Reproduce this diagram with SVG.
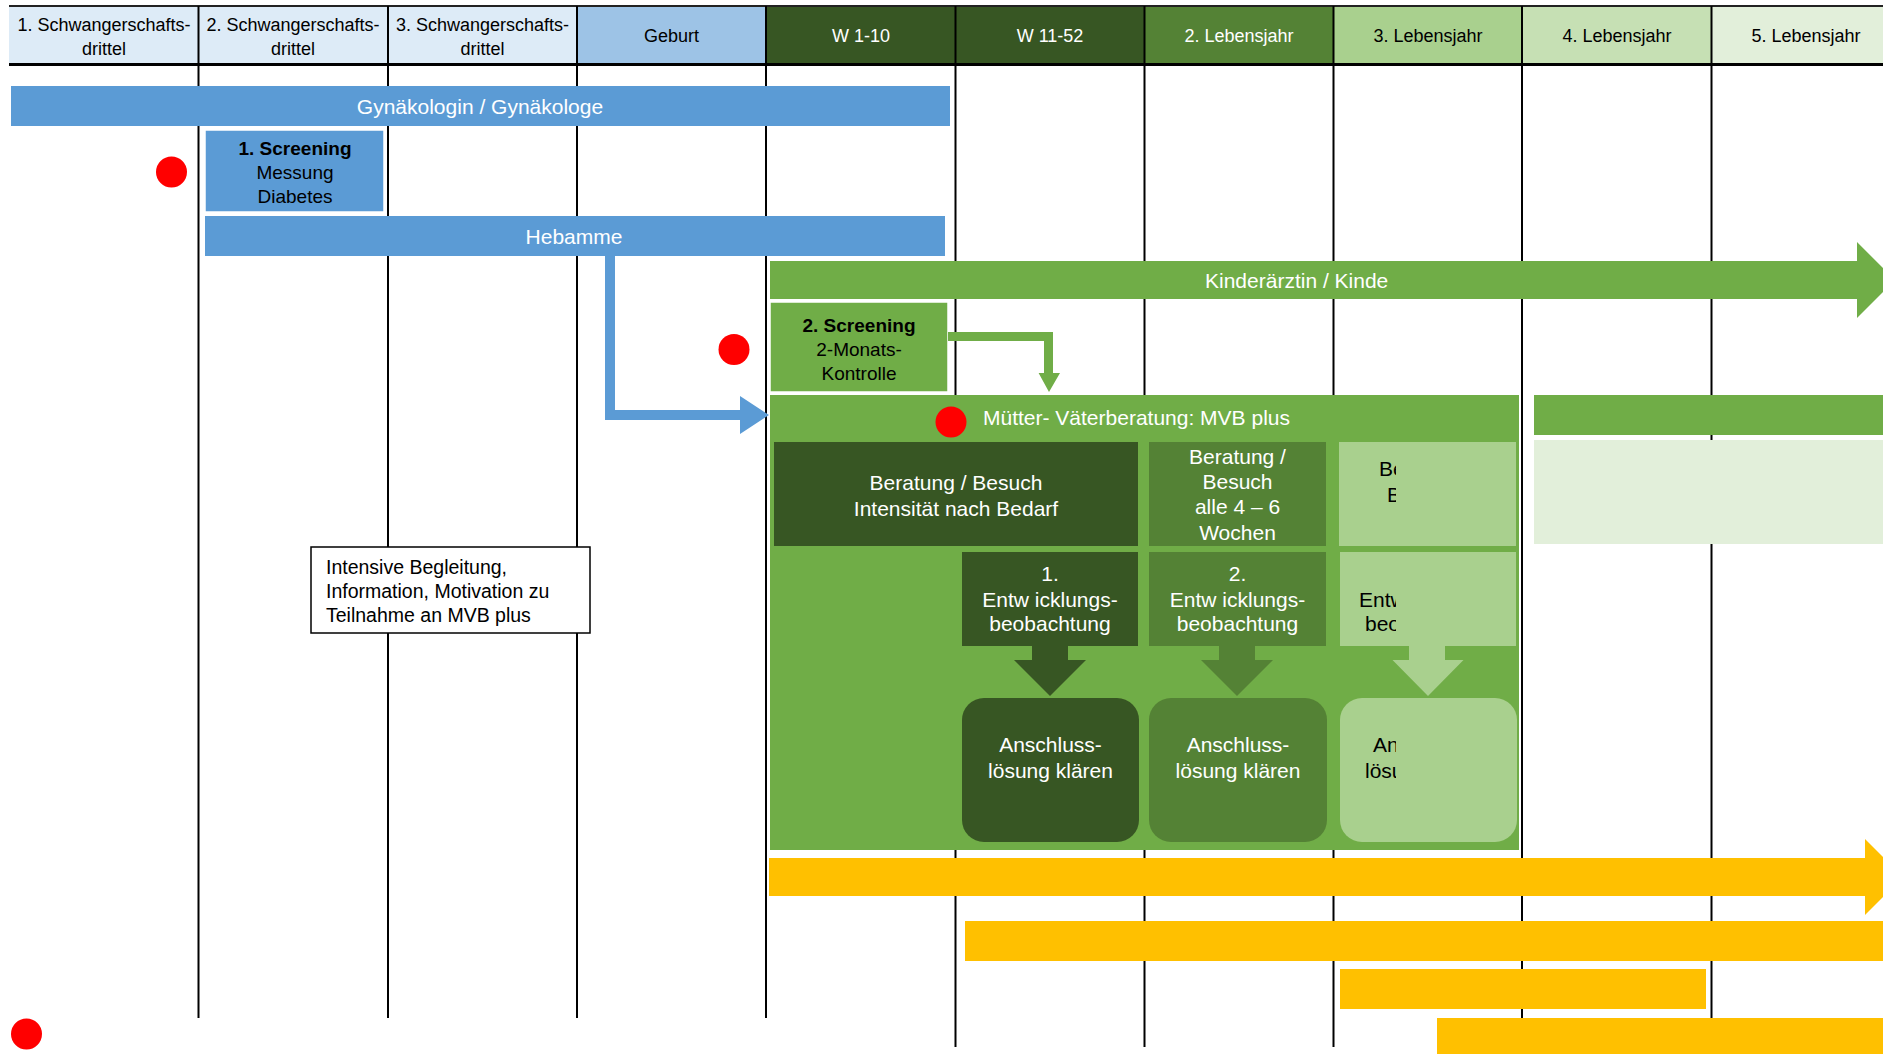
<svg xmlns="http://www.w3.org/2000/svg" width="1883" height="1054" viewBox="0 0 1883 1054">
<style>
text{font-family:"Liberation Sans",Arial,sans-serif}
.hd{font-size:18px;text-anchor:middle}
.t{font-size:21px;text-anchor:middle}
.w{fill:#ffffff}
.k{fill:#000000}
.gl{stroke:#000;stroke-width:2;fill:none}
.blue{fill:#5B9BD5}
.g1{fill:#70AD47}
.dk{fill:#375623}
.md{fill:#548235}
.lt{fill:#A9D08E}
.yel{fill:#FFC000}
.dot{fill:#FF0000}
</style>
<defs>
<clipPath id="clipR"><rect x="0" y="0" width="1396" height="1054"/></clipPath>
</defs>
<rect x="0" y="0" width="1883" height="1054" fill="#ffffff"/>

<g id="header">
<rect x="9" y="7" width="189.5" height="57" fill="#DDEBF7"/>
<rect x="198.5" y="7" width="189.5" height="57" fill="#DDEBF7"/>
<rect x="388" y="7" width="189" height="57" fill="#DDEBF7"/>
<rect x="577" y="7" width="189" height="57" fill="#9DC3E6"/>
<rect x="766" y="7" width="189.5" height="57" fill="#375623"/>
<rect x="955.5" y="7" width="189" height="57" fill="#375623"/>
<rect x="1144.5" y="7" width="189" height="57" fill="#548235"/>
<rect x="1333.5" y="7" width="188.5" height="57" fill="#A9D08E"/>
<rect x="1522" y="7" width="189.5" height="57" fill="#C6E0B4"/>
<rect x="1711.5" y="7" width="180" height="57" fill="#E2EFDA"/>
<line x1="9" y1="6" x2="1883" y2="6" stroke="#222" stroke-width="2"/>
<line x1="9" y1="64.5" x2="1883" y2="64.5" stroke="#000" stroke-width="3"/>
<g class="gl">
<line x1="198.5" y1="6" x2="198.5" y2="64"/>
<line x1="388" y1="6" x2="388" y2="64"/>
<line x1="577" y1="6" x2="577" y2="64"/>
<line x1="766" y1="6" x2="766" y2="64"/>
<line x1="955.5" y1="6" x2="955.5" y2="64"/>
<line x1="1144.5" y1="6" x2="1144.5" y2="64"/>
<line x1="1333.5" y1="6" x2="1333.5" y2="64"/>
<line x1="1522" y1="6" x2="1522" y2="64"/>
<line x1="1711.5" y1="6" x2="1711.5" y2="64"/>
</g>
<text class="hd k" x="104" y="30.5">1. Schwangerschafts-</text>
<text class="hd k" x="104" y="55">drittel</text>
<text class="hd k" x="293" y="30.5">2. Schwangerschafts-</text>
<text class="hd k" x="293" y="55">drittel</text>
<text class="hd k" x="482.5" y="30.5">3. Schwangerschafts-</text>
<text class="hd k" x="482.5" y="55">drittel</text>
<text class="hd k" x="671.5" y="42">Geburt</text>
<text class="hd w" x="861" y="42">W 1-10</text>
<text class="hd w" x="1050" y="42">W 11-52</text>
<text class="hd w" x="1239" y="42">2. Lebensjahr</text>
<text class="hd k" x="1428" y="42">3. Lebensjahr</text>
<text class="hd k" x="1617" y="42">4. Lebensjahr</text>
<text class="hd k" x="1806" y="42">5. Lebensjahr</text>
</g>

<g id="grid" class="gl">
<line x1="198.5" y1="66" x2="198.5" y2="1018"/>
<line x1="388" y1="66" x2="388" y2="1018"/>
<line x1="577" y1="66" x2="577" y2="1018"/>
<line x1="766" y1="66" x2="766" y2="1018"/>
<line x1="955.5" y1="66" x2="955.5" y2="1047"/>
<line x1="1144.5" y1="66" x2="1144.5" y2="1047"/>
<line x1="1333.5" y1="66" x2="1333.5" y2="1047"/>
<line x1="1522" y1="66" x2="1522" y2="1018"/>
<line x1="1711.5" y1="66" x2="1711.5" y2="1018"/>
</g>

<g id="gynaekologin">
<rect class="blue" x="11" y="86" width="939" height="40"/>
<text class="t w" x="480" y="114">Gynäkologin / Gynäkologe</text>
</g>

<g id="screening1">
<rect class="blue" x="205" y="130" width="179" height="82" stroke="#fff" stroke-width="1.5"/>
<text x="295" y="155" font-size="19" font-weight="bold" text-anchor="middle" class="k">1. Screening</text>
<text x="295" y="179" font-size="19" text-anchor="middle" class="k">Messung</text>
<text x="295" y="203" font-size="19" text-anchor="middle" class="k">Diabetes</text>
</g>

<g id="hebamme">
<rect class="blue" x="205" y="216" width="740" height="40"/>
<text class="t w" x="574" y="244">Hebamme</text>
</g>

<g id="kinderarzt">
<polygon class="g1" points="770,261 1857,261 1857,242 1895,280 1857,318 1857,299 770,299"/>
<text x="1205" y="288" font-size="21" class="w" clip-path="url(#clipR)">Kinderärztin / Kinde</text>
</g>

<g id="screening2">
<rect class="g1" x="770" y="302" width="178" height="90" stroke="#fff" stroke-width="1.5"/>
<text x="859" y="332" font-size="19" font-weight="bold" text-anchor="middle" class="k">2. Screening</text>
<text x="859" y="356" font-size="19" text-anchor="middle" class="k">2-Monats-</text>
<text x="859" y="380" font-size="19" text-anchor="middle" class="k">Kontrolle</text>
</g>

<g id="mvb-plus">
<rect class="g1" x="770" y="395" width="749" height="455"/>
<text x="983" y="425" font-size="21" class="w">Mütter- Väterberatung: MVB plus</text>
</g>

<g id="beratung-1">
<rect class="dk" x="774" y="442" width="364" height="104"/>
<text class="t w" x="956" y="489.5">Beratung / Besuch</text>
<text class="t w" x="956" y="515.5">Intensität nach Bedarf</text>
</g>

<g id="beratung-2">
<rect class="md" x="1149" y="442" width="177" height="104"/>
<text class="t w" x="1237.5" y="464">Beratung /</text>
<text class="t w" x="1237.5" y="489">Besuch</text>
<text class="t w" x="1237.5" y="514">alle 4 – 6</text>
<text class="t w" x="1237.5" y="539.5">Wochen</text>
</g>

<g id="beratung-3">
<rect class="lt" x="1339" y="442" width="177" height="104"/>
<g clip-path="url(#clipR)" font-size="21" class="k">
<text x="1379" y="476">Ber</text>
<text x="1387" y="502">Bes</text>
</g>
</g>

<g id="entwicklung-1">
<rect class="dk" x="962" y="552" width="176" height="94"/>
<text class="t w" x="1050" y="581">1.</text>
<text class="t w" x="1050" y="606.5">Entw icklungs-</text>
<text class="t w" x="1050" y="631">beobachtung</text>
</g>

<g id="entwicklung-2">
<rect class="md" x="1149" y="552" width="177" height="94"/>
<text class="t w" x="1237.5" y="581">2.</text>
<text class="t w" x="1237.5" y="606.5">Entw icklungs-</text>
<text class="t w" x="1237.5" y="631">beobachtung</text>
</g>

<g id="entwicklung-3">
<rect class="lt" x="1340" y="552" width="176" height="94"/>
<g clip-path="url(#clipR)" font-size="21" class="k">
<text x="1359" y="606.5">Entw</text>
<text x="1365" y="631">beo</text>
</g>
</g>

<g id="anschluss-1">
<rect class="dk" x="962" y="698" width="177" height="144" rx="22" ry="22"/>
<text class="t w" x="1050.5" y="752">Anschluss-</text>
<text class="t w" x="1050.5" y="777.5">lösung klären</text>
</g>

<g id="anschluss-2">
<rect class="md" x="1149" y="698" width="178" height="144" rx="22" ry="22"/>
<text class="t w" x="1238" y="752">Anschluss-</text>
<text class="t w" x="1238" y="777.5">lösung klären</text>
</g>

<g id="anschluss-3">
<rect class="lt" x="1340" y="698" width="177" height="144" rx="22" ry="22"/>
<g clip-path="url(#clipR)" font-size="21" class="k">
<text x="1373" y="752">Ans</text>
<text x="1365" y="777.5">lösu</text>
</g>
</g>

<g id="connectors">
<polygon class="blue" points="605,256 615,256 615,410 740,410 740,396 769,415 740,434 740,420 605,420"/>
<polygon class="g1" points="948,332 1053,332 1053,373 1060,373 1049,392 1038.6,373 1044,373 1044,341 948,341"/>
<polygon class="dk" points="1032,646 1068,646 1068,660 1086,660 1050,696 1014,660 1032,660"/>
<polygon class="md" points="1219,646 1255,646 1255,660 1273,660 1237,696 1201,660 1219,660"/>
<polygon class="lt" points="1409,646 1445,646 1445,660 1463.5,660 1428,696 1392.5,660 1409,660"/>
</g>

<g id="mvb-right">
<rect class="g1" x="1534" y="395" width="349" height="40"/>
<rect x="1534" y="440" width="349" height="104" fill="#E2EFDA"/>
</g>

<g id="info-box">
<rect x="311" y="547" width="279" height="86" fill="#fff" stroke="#000" stroke-width="1.5"/>
<text x="326" y="573.5" font-size="19.5" class="k">Intensive Begleitung,</text>
<text x="326" y="597.5" font-size="19.5" class="k">Information, Motivation zu</text>
<text x="326" y="621.5" font-size="19.5" class="k">Teilnahme an MVB plus</text>
</g>

<g id="yellow-bars">
<polygon class="yel" points="769,858 1865,858 1865,839 1903,877 1865,915 1865,896 769,896"/>
<rect class="yel" x="965" y="921" width="918" height="40"/>
<rect class="yel" x="1340" y="969" width="366" height="40"/>
<rect class="yel" x="1437" y="1018" width="446" height="36"/>
</g>

<g id="markers">
<circle class="dot" cx="171.5" cy="172" r="15.5"/>
<circle class="dot" cx="734" cy="349.5" r="15.5"/>
<circle class="dot" cx="951" cy="422" r="15.5"/>
<circle class="dot" cx="26.5" cy="1034" r="15.5"/>
</g>
</svg>
